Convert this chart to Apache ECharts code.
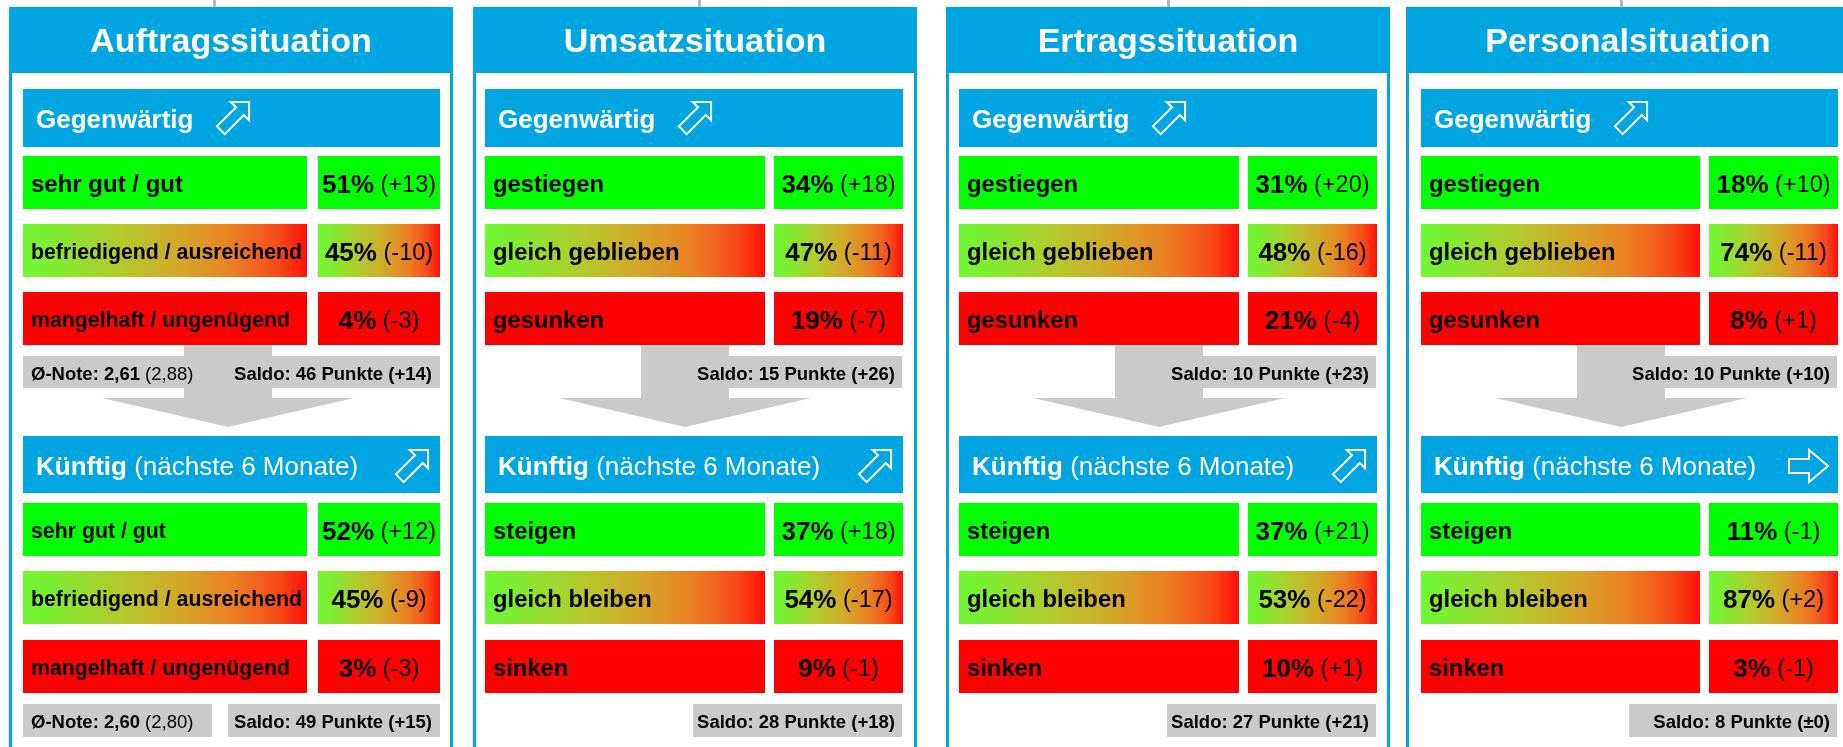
<!DOCTYPE html>
<html>
<head>
<meta charset="utf-8">
<script src="https://cdn.jsdelivr.net/npm/echarts@6/dist/echarts.min.js"></script>
<style>
html,body{margin:0;padding:0;background:#ffffff;}
#chart{width:1843px;height:747px;}
</style>
</head>
<body>
<div id="chart"></div>
<script>
// ---------------- DATA ----------------
const titles = ['Auftragssituation', 'Umsatzsituation', 'Ertragssituation', 'Personalsituation'];
const labelsNow = [
  ['sehr gut / gut', 'befriedigend / ausreichend', 'mangelhaft / ungenügend'],
  ['gestiegen', 'gleich geblieben', 'gesunken'],
  ['gestiegen', 'gleich geblieben', 'gesunken'],
  ['gestiegen', 'gleich geblieben', 'gesunken']
];
const labelsNext = [
  ['sehr gut / gut', 'befriedigend / ausreichend', 'mangelhaft / ungenügend'],
  ['steigen', 'gleich bleiben', 'sinken'],
  ['steigen', 'gleich bleiben', 'sinken'],
  ['steigen', 'gleich bleiben', 'sinken']
];
const pctNow   = [[51, 45, 4], [34, 47, 19], [31, 48, 21], [18, 74, 8]];
const deltaNow = [[13, -10, -3], [18, -11, -7], [20, -16, -4], [10, -11, 1]];
const pctNext   = [[52, 45, 3], [37, 54, 9], [37, 53, 10], [11, 87, 3]];
const deltaNext = [[12, -9, -3], [18, -17, -1], [21, -22, 1], [-1, 2, -1]];
const saldoNow = [46, 15, 10, 10];
const saldoNowDelta = [14, 26, 23, 10];
const saldoNext = [49, 28, 27, 8];
const saldoNextDelta = [15, 18, 21, 0];
const noteNow = ['2,61', '2,88'];   // [current, previous]
const noteNext = ['2,60', '2,80'];
const trendNow = ['up', 'up', 'up', 'up'];
const trendNext = ['up', 'up', 'up', 'right'];

// ---------------- LAYOUT / STYLE ----------------
const W = 1843, H = 747;
const FONT = '"Liberation Sans", Arial, Helvetica, sans-serif';
const BLUE = '#00A5E1';
const GREEN = '#00FF00';
const RED = '#FF0000';
const GRAY = '#CACACA';
const PANEL_X = [9, 473, 946, 1406];
const PANEL_W = 444;
const INNER_X = [23, 485, 959, 1421];
const INNER_W = [417, 418, 418, 417];
const LABEL_W = [284, 280, 280, 279];
const GAP_W = [11, 9, 9, 9];
const ROW_TOP_NOW = [156, 224, 292];
const ROW_TOP_NEXT = [503, 571, 640];
const ROW_H = 53;
const TEXT_DY = 2;

function midGradient() {
  return new echarts.graphic.LinearGradient(0, 0, 1, 0, [
    { offset: 0, color: '#6FF835' },
    { offset: 0.1, color: '#7EEE32' },
    { offset: 0.35, color: '#B5C82C' },
    { offset: 0.55, color: '#D4A828' },
    { offset: 0.75, color: '#EC7C22' },
    { offset: 0.9, color: '#F74A18' },
    { offset: 1, color: '#FF100A' }
  ]);
}
function rowFill(r) { return r === 0 ? GREEN : (r === 1 ? midGradient() : RED); }
function fmt(d) { return d > 0 ? '+' + d : (d < 0 ? '-' + Math.abs(d) : '±0'); }

function helpers(api) {
  const c = (x, y) => api.coord([x, y]);
  const rect = (x, y, w, h, style) => {
    const a = c(x, y), b = c(x + w, y + h);
    return { type: 'rect', shape: { x: a[0], y: a[1], width: b[0] - a[0], height: b[1] - a[1] }, style: style };
  };
  const text = (x, y, str, style) => {
    const a = c(x, y + TEXT_DY);
    return { type: 'text', x: a[0], y: a[1], style: Object.assign({ text: str, fontFamily: FONT, verticalAlign: 'middle' }, style) };
  };
  const poly = (pts, style) => ({ type: 'polygon', shape: { points: pts.map(p => c(p[0], p[1])) }, style: style });
  return { c, rect, text, poly };
}

// hollow arrow, centred at (cx, cy); kind 'up' = diagonal up-right, 'right' = horizontal
function arrowPoints(kind, cx, cy) {
  let L, hl, hw, sw, ang;
  if (kind === 'up') { L = 40; hl = 13; hw = 13; sw = 5.5; ang = -Math.PI / 4; }
  else { L = 39; hl = 19; hw = 16; sw = 7; ang = 0; }
  const loc = [[0, -sw], [L - hl, -sw], [L - hl, -hw], [L, 0], [L - hl, hw], [L - hl, sw], [0, sw]];
  const ca = Math.cos(ang), sa = Math.sin(ang);
  const pts = loc.map(p => [p[0] * ca - p[1] * sa, p[0] * sa + p[1] * ca]);
  const xs = pts.map(p => p[0]), ys = pts.map(p => p[1]);
  const mx = (Math.min(...xs) + Math.max(...xs)) / 2, my = (Math.min(...ys) + Math.max(...ys)) / 2;
  return pts.map(p => [p[0] - mx + cx, p[1] - my + cy]);
}

function renderFrame(params, api) {
  const p = api.value(0);
  const h = helpers(api);
  const ch = [];
  const ix = INNER_X[p], iw = INNER_W[p];
  // panel frame
  ch.push(h.rect(PANEL_X[p] + 1.5, 8.5, PANEL_W - 3, 800, { fill: '#ffffff', stroke: BLUE, lineWidth: 3 }));
  ch.push(h.rect(PANEL_X[p], 7, PANEL_W, 66, { fill: BLUE }));
  ch.push(h.text(PANEL_X[p] + PANEL_W / 2, 41, titles[p], { fill: '#ffffff', fontSize: 34, fontWeight: 'bold', align: 'center' }));
  // header "Gegenwärtig"
  ch.push(h.rect(ix, 89, iw, 58, { fill: BLUE }));
  ch.push(h.text(ix + 13, 119, 'Gegenwärtig', { fill: '#ffffff', fontSize: 26, fontWeight: 'bold', align: 'left' }));
  ch.push(h.poly(arrowPoints(trendNow[p], ix + 210, 118), { fill: 'none', stroke: '#ffffff', lineWidth: 2 }));
  // summary (current) with down arrow
  const hasNote = p === 0;
  const shaftX = ix + (hasNote ? 161 : 156);
  const cx = shaftX + 44;
  ch.push(h.rect(shaftX, 345, 88, 53, { fill: GRAY }));
  ch.push(h.poly([[cx - 126, 398], [cx + 126, 398], [cx, 427]], { fill: GRAY }));
  if (hasNote) {
    ch.push(h.rect(ix, 356, iw, 32, { fill: GRAY }));
    ch.push(h.text(ix + 8, 373, '{b|Ø-Note: ' + noteNow[0] + '} {r|(' + noteNow[1] + ')}', {
      align: 'left', fill: '#000', fontSize: 18.5,
      rich: { b: { fontSize: 18.5, fontWeight: 'bold', fontFamily: FONT, fill: '#000' }, r: { fontSize: 18.5, fontFamily: FONT, fill: '#000' } }
    }));
  } else {
    ch.push(h.rect(shaftX, 356, ix + iw - 1 - shaftX, 32, { fill: GRAY }));
  }
  ch.push(h.text(ix + iw - 8, 373, 'Saldo: ' + saldoNow[p] + ' Punkte (' + fmt(saldoNowDelta[p]) + ')',
    { fill: '#000', fontSize: 18.5, fontWeight: 'bold', align: 'right' }));
  // header "Künftig"
  ch.push(h.rect(ix, 436, iw, 57, { fill: BLUE }));
  ch.push(h.text(ix + 13, 466, '{b|Künftig} {r|(nächste 6 Monate)}', {
    align: 'left', fill: '#ffffff', fontSize: 26,
    rich: { b: { fontSize: 26, fontWeight: 'bold', fontFamily: FONT, fill: '#ffffff' }, r: { fontSize: 26, fontFamily: FONT, fill: '#ffffff' } }
  }));
  const ak = trendNext[p];
  const acx = ak === 'up' ? ix + iw - 12 - 16 : ix + iw - 10 - 19.5;
  ch.push(h.poly(arrowPoints(ak, acx, 466), { fill: 'none', stroke: '#ffffff', lineWidth: 2 }));
  // summary (next)
  if (hasNote) {
    ch.push(h.rect(ix, 704, 189, 33, { fill: GRAY }));
    ch.push(h.text(ix + 8, 721, '{b|Ø-Note: ' + noteNext[0] + '} {r|(' + noteNext[1] + ')}', {
      align: 'left', fill: '#000', fontSize: 18.5,
      rich: { b: { fontSize: 18.5, fontWeight: 'bold', fontFamily: FONT, fill: '#000' }, r: { fontSize: 18.5, fontFamily: FONT, fill: '#000' } }
    }));
    ch.push(h.rect(ix + 205, 704, iw - 205, 33, { fill: GRAY }));
  } else {
    ch.push(h.rect(ix + 208, 704, iw - 209, 33, { fill: GRAY }));
  }
  ch.push(h.text(ix + iw - 8, 721, 'Saldo: ' + saldoNext[p] + ' Punkte (' + fmt(saldoNextDelta[p]) + ')',
    { fill: '#000', fontSize: 18.5, fontWeight: 'bold', align: 'right' }));
  return { type: 'group', children: ch };
}

function renderRow(params, api) {
  const p = api.value(0), s = api.value(1), r = api.value(2);
  const pct = api.value(3), d = api.value(4);
  const h = helpers(api);
  const lbl = (s === 0 ? labelsNow : labelsNext)[p][r];
  const y0 = (s === 0 ? ROW_TOP_NOW : ROW_TOP_NEXT)[r];
  const x0 = INNER_X[p], lw = LABEL_W[p];
  const vx = x0 + lw + GAP_W[p], vw = INNER_X[p] + INNER_W[p] - vx;
  const fs = p === 0 ? ((s === 0 && r === 0) ? 24 : 21.3) : 23.8;
  const ch = [];
  ch.push(h.rect(x0, y0, lw, ROW_H, { fill: rowFill(r) }));
  ch.push(h.rect(vx, y0, vw, ROW_H, { fill: rowFill(r) }));
  ch.push(h.text(x0 + 8, y0 + ROW_H / 2 + 1, lbl, { fill: '#000', fontSize: fs, fontWeight: 'bold', align: 'left' }));
  ch.push(h.text(vx + vw / 2, y0 + ROW_H / 2 + 1, '{b|' + pct + '%} {r|(' + fmt(d) + ')}', {
    align: 'center', fill: '#000', fontSize: 23.5,
    rich: { b: { fontSize: 26, fontWeight: 'bold', fontFamily: FONT, fill: '#000' }, r: { fontSize: 23.5, fontFamily: FONT, fill: '#000' } }
  }));
  return { type: 'group', children: ch };
}

const frameData = titles.map((t, i) => [i, 0]);
const rowData = [];
titles.forEach((t, p) => {
  [0, 1, 2].forEach(r => rowData.push([p, 0, r, pctNow[p][r], deltaNow[p][r]]));
  [0, 1, 2].forEach(r => rowData.push([p, 1, r, pctNext[p][r], deltaNext[p][r]]));
});

const chart = echarts.init(document.getElementById('chart'), null, { renderer: 'canvas', width: W, height: H });
chart.setOption({
  animation: false,
  backgroundColor: '#ffffff',
  grid: { left: 0, right: 0, top: 0, bottom: 0 },
  xAxis: { type: 'value', min: 0, max: W, show: false },
  yAxis: { type: 'value', min: 0, max: H, inverse: true, show: false },
  tooltip: { show: false },
  graphic: [213, 698, 1167, 1620].map(x => ({
    type: 'rect', left: x, top: 0, shape: { width: 3, height: 7 }, style: { fill: '#B8B8B8' }, silent: true
  })),
  series: [
    { type: 'custom', name: 'frames', coordinateSystem: 'cartesian2d', renderItem: renderFrame, data: frameData, silent: true },
    { type: 'custom', name: 'rows', coordinateSystem: 'cartesian2d', renderItem: renderRow, data: rowData, silent: true }
  ]
});
</script>
</body>
</html>
